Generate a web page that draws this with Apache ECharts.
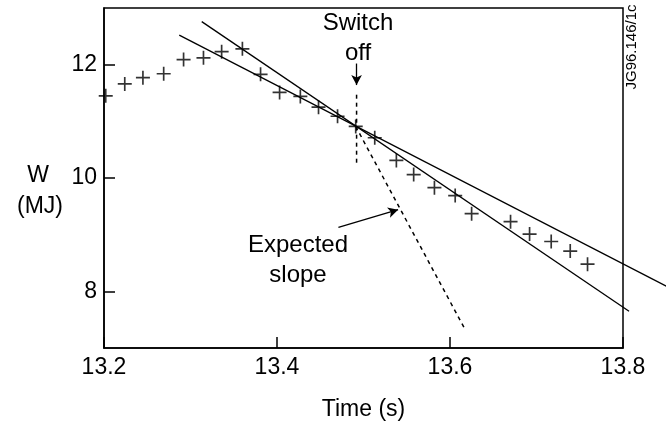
<!DOCTYPE html>
<html>
<head>
<meta charset="utf-8">
<script src="https://cdn.jsdelivr.net/npm/echarts@6/dist/echarts.min.js"></script>
<style>html,body{margin:0;padding:0;background:#fff}#c{width:666px;height:426px}</style>
</head>
<body>
<div id="c"></div>
<script>
// Measured energy W (MJ) vs time (s)
var times = [13.202,13.224,13.245,13.269,13.292,13.315,13.336,13.360,13.381,13.403,13.427,13.448,13.470,13.491,13.513,13.538,13.558,13.582,13.606,13.625,13.670,13.692,13.717,13.739,13.759];
var energy = [11.45,11.66,11.77,11.84,12.09,12.12,12.23,12.28,11.83,11.51,11.44,11.25,11.09,10.91,10.71,10.31,10.06,9.83,9.69,9.37,9.23,9.01,8.88,8.71,8.48];
// Fitted lines (endpoints: t0, W0, t1, W1)
var steepFit = [13.313,12.76,13.807,7.65];
var shallowFit = [13.287,12.52,13.850,8.09];
var expectedSlope = [[13.491,10.91],[13.617,7.34]];
var switchOffLine = [[13.492,11.47],[13.492,10.23]];
var switchArrow = [[13.492,12.02],[13.492,11.64]];
var expectedArrow = [[13.471,9.13],[13.540,9.44]];
var xTicks = [13.2,13.4,13.6,13.8];
var yTicks = [8,10,12];

var FONT = '"Liberation Sans", Arial, sans-serif';
var chart = echarts.init(document.getElementById('c'), null, {renderer:'canvas'});
var pts = times.map(function(t,i){return [t, energy[i]];});
var dashed = {color:'#000', width:1.5, type:[4,4]};

function segRender(params, api){
  var p0 = api.coord([api.value(0), api.value(1)]);
  var p1 = api.coord([api.value(2), api.value(3)]);
  return {type:'line', shape:{x1:p0[0], y1:p0[1], x2:p1[0], y2:p1[1]}, style:{stroke:'#000', lineWidth:1.3}};
}

chart.setOption({
  animation:false,
  backgroundColor:'#fff',
  grid:{left:104, right:43, top:8, bottom:70, show:true, borderColor:'#000', borderWidth:1.5, backgroundColor:'transparent'},
  xAxis:{
    type:'value', min:13.2, max:13.8, interval:0.2,
    name:'Time (s)', nameLocation:'middle', nameGap:50,
    nameTextStyle:{fontFamily:FONT, fontSize:23, color:'#000'},
    axisLine:{lineStyle:{color:'#000', width:1.5}},
    axisTick:{inside:true, length:11, lineStyle:{color:'#000', width:1.5}, customValues:xTicks},
    axisLabel:{fontFamily:FONT, fontSize:23, color:'#000', margin:8, customValues:xTicks, formatter:function(v){return v.toFixed(1);}},
    splitLine:{show:false}
  },
  yAxis:{
    type:'value', min:7, max:13, interval:1,
    axisLine:{show:true, lineStyle:{color:'#000', width:1.5}},
    axisTick:{show:true, inside:true, length:11, lineStyle:{color:'#000', width:1.5}, customValues:yTicks},
    axisLabel:{fontFamily:FONT, fontSize:23, color:'#000', margin:7, customValues:yTicks},
    splitLine:{show:false}
  },
  series:[
    {type:'scatter', data:pts, symbol:'path://M4.4,0H5.6V4.4H10V5.6H5.6V10H4.4V5.6H0V4.4H4.4Z', symbolSize:14, itemStyle:{color:'#000'}, z:5},
    {type:'custom', data:[steepFit, shallowFit], encode:{x:[0,2], y:[1,3]}, renderItem:segRender, clip:false, silent:true},
    {type:'line', data:expectedSlope, symbol:'none', lineStyle:dashed},
    {type:'line', data:switchOffLine, symbol:'none', lineStyle:dashed,
      markLine:{silent:true, symbol:['none','arrow'], symbolSize:[8,10], label:{show:false},
        lineStyle:{color:'#000', width:1.3, type:'solid'},
        data:[
          [{coord:switchArrow[0]},{coord:switchArrow[1]}],
          [{coord:expectedArrow[0]},{coord:expectedArrow[1]}]
        ]}
    }
  ],
  graphic:[
    {type:'text', x:358, y:23, style:{text:'Switch', font:'24px '+FONT, fill:'#000', align:'center', verticalAlign:'middle'}},
    {type:'text', x:358, y:53, style:{text:'off', font:'24px '+FONT, fill:'#000', align:'center', verticalAlign:'middle'}},
    {type:'text', x:298, y:245, style:{text:'Expected', font:'24px '+FONT, fill:'#000', align:'center', verticalAlign:'middle'}},
    {type:'text', x:298, y:275, style:{text:'slope', font:'24px '+FONT, fill:'#000', align:'center', verticalAlign:'middle'}},
    {type:'text', x:38, y:176, style:{text:'W', font:'23px '+FONT, fill:'#000', align:'center', verticalAlign:'middle'}},
    {type:'text', x:40, y:207, style:{text:'(MJ)', font:'23px '+FONT, fill:'#000', align:'center', verticalAlign:'middle'}},
    {type:'text', x:632, y:47, rotation:Math.PI/2, style:{text:'JG96.146/1c', font:'15px '+FONT, fill:'#000', align:'center', verticalAlign:'middle'}}
  ]
});
</script>
</body>
</html>
